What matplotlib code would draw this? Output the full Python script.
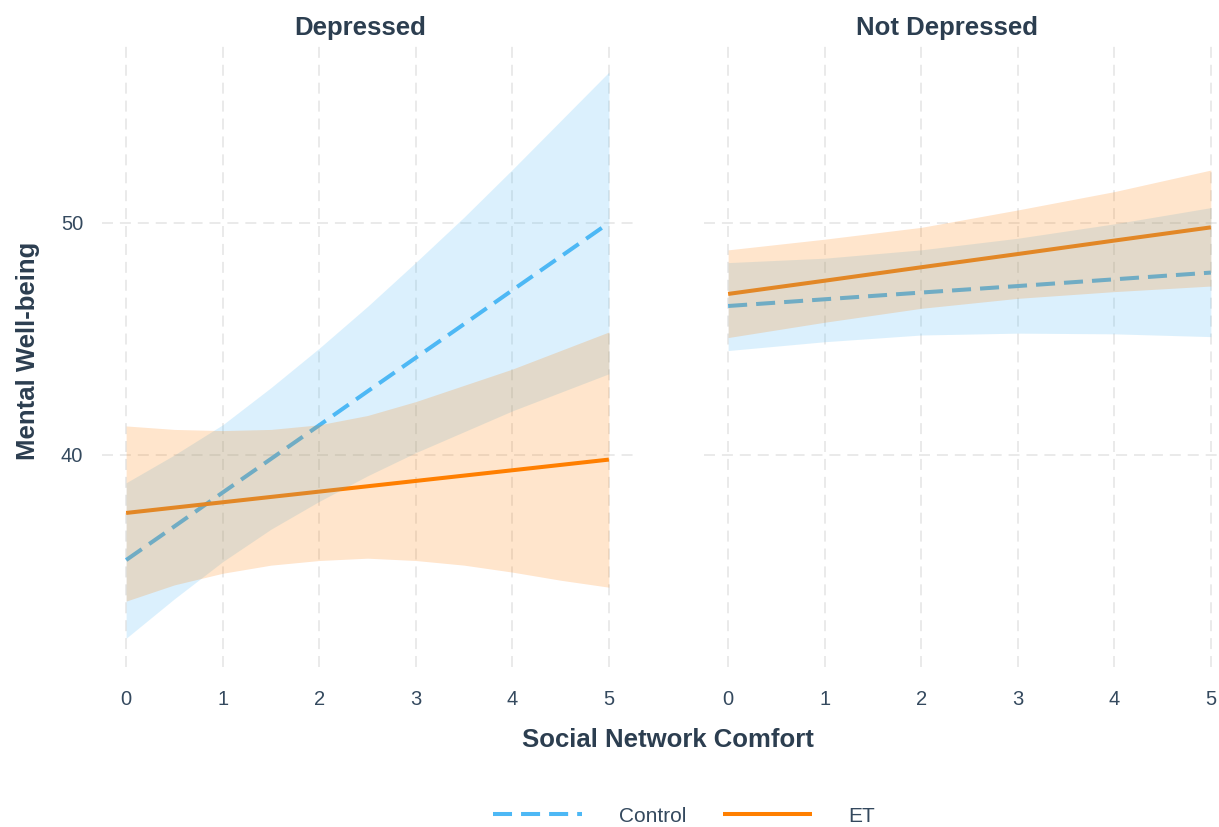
import matplotlib
matplotlib.use("Agg")
import matplotlib.pyplot as plt
from matplotlib.lines import Line2D

plt.rcParams['font.family'] = ['Liberation Sans', 'DejaVu Sans']
plt.rcParams['lines.scale_dashes'] = False

# ---- data -------------------------------------------------------------
panels = ["Depressed", "Not Depressed"]
groups = ["Control", "ET"]

# Depressed panel
dep_x = [0, 0.5, 1, 1.5, 2, 2.5, 3, 3.5, 4, 4.5, 5]
dep_control_fit = [35.47, 36.92, 38.38, 39.83, 41.28, 42.74, 44.19, 45.64, 47.10, 48.55, 50.0]
dep_control_lo = [32.1, 33.8, 35.4, 36.8, 38.0, 39.1, 40.1, 41.0, 41.9, 42.7, 43.5]
dep_control_hi = [38.8, 40.0, 41.3, 42.9, 44.6, 46.4, 48.3, 50.25, 52.3, 54.4, 56.5]
dep_et_fit = [37.5, 37.73, 37.96, 38.19, 38.42, 38.65, 38.88, 39.11, 39.34, 39.57, 39.8]
dep_et_lo = [33.7, 34.4, 34.9, 35.25, 35.45, 35.55, 35.45, 35.25, 34.95, 34.6, 34.3]
dep_et_hi = [41.25, 41.1, 41.05, 41.1, 41.3, 41.7, 42.3, 43.0, 43.7, 44.5, 45.3]

# Not Depressed panel
nd_x = [0, 1, 2, 3, 4, 5]
nd_control_fit = [46.42, 46.71, 47.0, 47.28, 47.57, 47.86]
nd_control_lo = [44.5, 44.88, 45.17, 45.25, 45.22, 45.1]
nd_control_hi = [48.29, 48.48, 48.84, 49.34, 49.96, 50.66]
nd_et_fit = [46.94, 47.51, 48.09, 48.66, 49.24, 49.81]
nd_et_lo = [45.06, 45.72, 46.32, 46.75, 47.04, 47.28]
nd_et_hi = [48.84, 49.3, 49.81, 50.56, 51.35, 52.28]

x_ticks = [0, 1, 2, 3, 4, 5]
y_ticks = [40, 50]

# ---- style ------------------------------------------------------------
colors = {"Control": "#4db8f5", "ET": "#ff7f00"}
dash = (0, (13.7, 6.5))
title_color = "#2c3e50"
text_color = "#34495e"
grid_color = "#e4e4e4"

W, H = 1219, 827
fig = plt.figure(figsize=(W / 100, H / 100), dpi=100)

def fx(px):
    return px / W

def fy(py):
    return 1 - py / H

ax_left = fig.add_axes([fx(102), fy(667), fx(531), fy(45) - fy(667)])
ax_right = fig.add_axes([fx(704), fy(667), fx(531), fy(45) - fy(667)])

panel_data = [
    (ax_left, dep_x,
     {"Control": (dep_control_fit, dep_control_lo, dep_control_hi),
      "ET": (dep_et_fit, dep_et_lo, dep_et_hi)}),
    (ax_right, nd_x,
     {"Control": (nd_control_fit, nd_control_lo, nd_control_hi),
      "ET": (nd_et_fit, nd_et_lo, nd_et_hi)}),
]

for i, (ax, xs, series) in enumerate(panel_data):
    ax.set_xlim(-0.25, 5.25)
    ax.set_ylim(30.86, 57.67)
    ax.set_xticks(x_ticks)
    ax.set_yticks(y_ticks)
    ax.grid(True, color=grid_color, linewidth=1.1, linestyle=(0, (7.9, 5.0)), zorder=0)
    ax.set_axisbelow(True)
    for s in ax.spines.values():
        s.set_visible(False)
    ax.tick_params(length=0, labelsize=14.5, labelcolor=text_color)
    ax.tick_params(axis='x', pad=16.5)
    ax.tick_params(axis='y', pad=13.5)
    if i == 1:
        ax.tick_params(axis='y', labelleft=False)

    # fitted lines sit beneath the translucent confidence bands
    for g in groups:
        fit, lo, hi = series[g]
        ls = dash if g == "Control" else "solid"
        ax.plot(xs, fit, color=colors[g], linewidth=2.9, linestyle=ls,
                dash_capstyle='butt', solid_capstyle='butt', zorder=2)
    for g in groups:
        fit, lo, hi = series[g]
        ax.fill_between(xs, lo, hi, color=colors[g], alpha=0.2,
                        linewidth=0, zorder=3)

# panel strip titles
fig.text(fx(359.7), fy(35), panels[0], ha='center', va='baseline',
         fontsize=18.5, fontweight='bold', color=title_color)
fig.text(fx(946.7), fy(35), panels[1], ha='center', va='baseline',
         fontsize=18.5, fontweight='bold', color=title_color)

# axis titles
fig.text(fx(668), fy(747), "Social Network Comfort", ha='center', va='baseline',
         fontsize=18.5, fontweight='bold', color=title_color)
fig.text(fx(28.5), fy(351), "Mental Well-being", ha='center', va='center',
         rotation=90, fontsize=18.5, fontweight='bold', color=title_color)

# legend
handles = [
    Line2D([], [], color=colors["Control"], linewidth=2.9, linestyle=dash,
           dash_capstyle='butt'),
    Line2D([], [], color=colors["ET"], linewidth=2.9, linestyle='solid',
           solid_capstyle='butt'),
]
fig.legend(handles, groups, loc='center', bbox_to_anchor=(fx(684), fy(816)),
           ncol=2, frameon=False, fontsize=15, labelcolor=text_color,
           handlelength=4.3, handletextpad=1.75, columnspacing=1.75)

fig.savefig("out.png", dpi=100)
